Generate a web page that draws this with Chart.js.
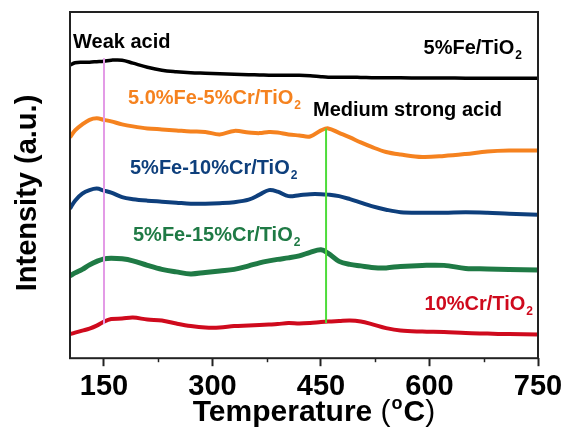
<!DOCTYPE html>
<html>
<head>
<meta charset="utf-8">
<style>
  html, body { margin: 0; padding: 0; background: #fff; }
  #wrap { width: 568px; height: 432px; }
</style>
<script src="https://cdn.jsdelivr.net/npm/chart.js@4/dist/chart.umd.min.js"></script>
</head>
<body>
<div id="wrap"><canvas id="tpdChart" width="568" height="432"></canvas></div>
<script>
// NH3-TPD style curves, intensities in arbitrary units (stacked offsets)
const temps = [103, 110, 120, 130, 140, 150, 160, 175, 190, 210, 230, 250, 270, 290, 310, 330, 350, 365, 378, 390, 405, 420, 435, 450, 460, 475, 490, 505, 520, 540, 560, 590, 620, 650, 680, 710, 750];

const fe5 = [292, 294.5, 295, 295, 295.5, 296, 297, 297, 294, 290, 287, 285.5, 284.5, 284, 283.5, 283, 282.5, 282.3, 282, 282, 282, 282, 281.5, 280.5, 280, 280, 280, 279.8, 279.6, 279.5, 279.4, 279.3, 279.2, 279.1, 279, 279, 279];
const fe5cr5 = [220, 227, 233, 237.5, 239, 237.5, 236, 233, 231, 229, 228, 227, 226, 225.5, 223, 226.5, 225, 224.3, 225.5, 225, 223, 222, 221, 227, 229, 224.5, 220, 215, 210.5, 205.5, 203, 200.5, 201.5, 203.5, 206, 207, 207];
const fe5cr10 = [149, 157, 164, 167.5, 169, 167, 165, 160.5, 158.5, 157, 156, 155, 154, 154, 154.5, 155.5, 158, 163, 167.5, 166, 161.5, 162.5, 163.5, 163.5, 163, 161.5, 158.5, 155, 151.5, 148, 145.5, 145, 145, 145.5, 145, 144, 143];
const fe5cr15 = [82, 85, 88.5, 93, 96.5, 99, 99.5, 99, 97, 92.5, 88.5, 86, 84, 85.5, 87, 88.5, 92, 95, 97, 98.5, 100, 102, 105.5, 108, 104.5, 96.5, 93.5, 92, 90.5, 90, 91.5, 92.5, 92.5, 89.5, 89, 88.5, 88];
const cr10 = [24, 25.5, 27.5, 29.5, 32.5, 36.5, 39, 39.5, 40.5, 38.5, 37.5, 34.5, 32, 30.5, 30.5, 32, 32.5, 33, 33.5, 34, 35, 34.5, 35, 36, 36.5, 37, 37.5, 36.5, 34, 30, 27.5, 26.5, 26, 25, 24.5, 24, 23.7];

// marker lines for acid sites
const weakT = 150, weakSpan = [299, 34];
const mediumT = 457, mediumSpan = [229, 35];

const majorTicks = [150, 300, 450, 600, 750];
const minorTicks = [225, 375, 525, 675];

const FONT = "'Liberation Sans', Arial, sans-serif";

function pairs(ys) {
  return ys.map((y, i) => ({ x: temps[i], y: y }));
}

function curve(label, ys, color, width) {
  return {
    label: label,
    data: pairs(ys),
    borderColor: color,
    borderWidth: width,
    pointRadius: 0,
    tension: 0.35,
    fill: false
  };
}

function marker(t, span, color) {
  return {
    label: 'marker',
    data: [{ x: t, y: span[0] }, { x: t, y: span[1] }],
    borderColor: color,
    borderWidth: 2,
    pointRadius: 0,
    tension: 0
  };
}

// text with an optional subscript part, e.g. TiO + "2"
function drawLabel(ctx, main, sub, x, y, align, color, size) {
  ctx.save();
  ctx.fillStyle = color;
  ctx.textBaseline = 'middle';
  ctx.font = `bold ${size}px ${FONT}`;
  const w1 = ctx.measureText(main).width;
  let w2 = 0;
  const subSize = Math.round(size * 0.62);
  if (sub) {
    ctx.font = `bold ${subSize}px ${FONT}`;
    w2 = ctx.measureText(sub).width + 1;
  }
  const left = align === 'right' ? x - w1 - w2 : x;
  ctx.textAlign = 'left';
  ctx.font = `bold ${size}px ${FONT}`;
  ctx.fillText(main, left, y);
  if (sub) {
    ctx.font = `bold ${subSize}px ${FONT}`;
    ctx.fillText(sub, left + w1 + 1, y + size * 0.38);
  }
  ctx.restore();
}

const decorPlugin = {
  id: 'decor',
  afterDraw(chart) {
    const ctx = chart.ctx;
    const a = chart.chartArea;
    const xs = chart.scales.x;

    // frame
    ctx.save();
    ctx.strokeStyle = '#222';
    ctx.lineWidth = 2;
    ctx.strokeRect(a.left, a.top, a.right - a.left, a.bottom - a.top);

    // short minor ticks
    ctx.lineWidth = 1.5;
    minorTicks.forEach(v => {
      const px = Math.round(xs.getPixelForValue(v)) + 0.5;
      ctx.beginPath();
      ctx.moveTo(px, a.bottom);
      ctx.lineTo(px, a.bottom + 4);
      ctx.stroke();
    });
    ctx.restore();

    // annotations
    drawLabel(ctx, 'Weak acid', '', 73, 42, 'left', '#000', 20);
    drawLabel(ctx, '5%Fe/TiO', '2', 522, 48, 'right', '#000', 20);
    drawLabel(ctx, '5.0%Fe-5%Cr/TiO', '2', 128, 98, 'left', '#f5821f', 20);
    drawLabel(ctx, 'Medium strong acid', '', 313, 110, 'left', '#000', 20);
    drawLabel(ctx, '5%Fe-10%Cr/TiO', '2', 130, 168, 'left', '#0e3f7c', 20);
    drawLabel(ctx, '5%Fe-15%Cr/TiO', '2', 133, 235, 'left', '#1f7a45', 20);
    drawLabel(ctx, '10%Cr/TiO', '2', 533, 304, 'right', '#cf0a1d', 20);

    // x title with superscript o
    ctx.save();
    ctx.fillStyle = '#000';
    ctx.textBaseline = 'middle';
    ctx.textAlign = 'left';
    const big = `bold 30px ${FONT}`;
    const paren = `30px ${FONT}`;
    const small = `bold 18px ${FONT}`;
    ctx.font = big;
    const t1 = 'Temperature ';
    const w1 = ctx.measureText(t1).width;
    ctx.font = paren;
    const wp = ctx.measureText('(').width;
    ctx.font = small;
    const wo = ctx.measureText('o').width;
    ctx.font = big;
    const wc = ctx.measureText('C').width;
    ctx.font = paren;
    const wq = ctx.measureText(')').width;
    const total = w1 + wp + wo + wc + wq + 2;
    let x = 314 - total / 2;
    const y = 413;
    ctx.font = big; ctx.fillText(t1, x, y); x += w1;
    ctx.font = paren; ctx.fillText('(', x, y); x += wp + 1;
    ctx.font = small; ctx.fillText('o', x, y - 9); x += wo + 1;
    ctx.font = big; ctx.fillText('C', x, y); x += wc;
    ctx.font = paren; ctx.fillText(')', x, y);
    ctx.restore();

    // y title
    ctx.save();
    ctx.translate(28, 193);
    ctx.rotate(-Math.PI / 2);
    ctx.fillStyle = '#000';
    ctx.textAlign = 'center';
    ctx.textBaseline = 'middle';
    ctx.font = `bold 29px ${FONT}`;
    ctx.fillText('Intensity (a.u.)', 0, 0);
    ctx.restore();
  }
};

new Chart(document.getElementById('tpdChart'), {
  type: 'line',
  data: {
    datasets: [
      marker(weakT, weakSpan, '#e39be6'),
      marker(mediumT, mediumSpan, '#4ddc3a'),
      curve('5%Fe/TiO2', fe5, '#000000', 3.5),
      curve('5.0%Fe-5%Cr/TiO2', fe5cr5, '#f5821f', 4),
      curve('5%Fe-10%Cr/TiO2', fe5cr10, '#0e3f7c', 4),
      curve('5%Fe-15%Cr/TiO2', fe5cr15, '#1f7a45', 5),
      curve('10%Cr/TiO2', cr10, '#cf0a1d', 4)
    ]
  },
  options: {
    responsive: false,
    animation: false,
    layout: { padding: { left: 70, right: 30, top: 12, bottom: 25 } },
    plugins: {
      legend: { display: false },
      tooltip: { enabled: false },
      title: { display: false }
    },
    scales: {
      x: {
        type: 'linear',
        min: 103,
        max: 750,
        afterBuildTicks: (scale) => {
          scale.ticks = majorTicks.map(v => ({ value: v }));
        },
        border: { display: false },
        grid: {
          drawOnChartArea: false,
          drawTicks: true,
          tickLength: 8,
          tickWidth: 2,
          tickColor: '#222'
        },
        ticks: {
          color: '#000',
          padding: 3,
          maxRotation: 0,
          font: { family: FONT, size: 29, weight: 'bold' }
        }
      },
      y: {
        display: false,
        min: 0,
        max: 345
      }
    }
  },
  plugins: [decorPlugin]
});
</script>
</body>
</html>
